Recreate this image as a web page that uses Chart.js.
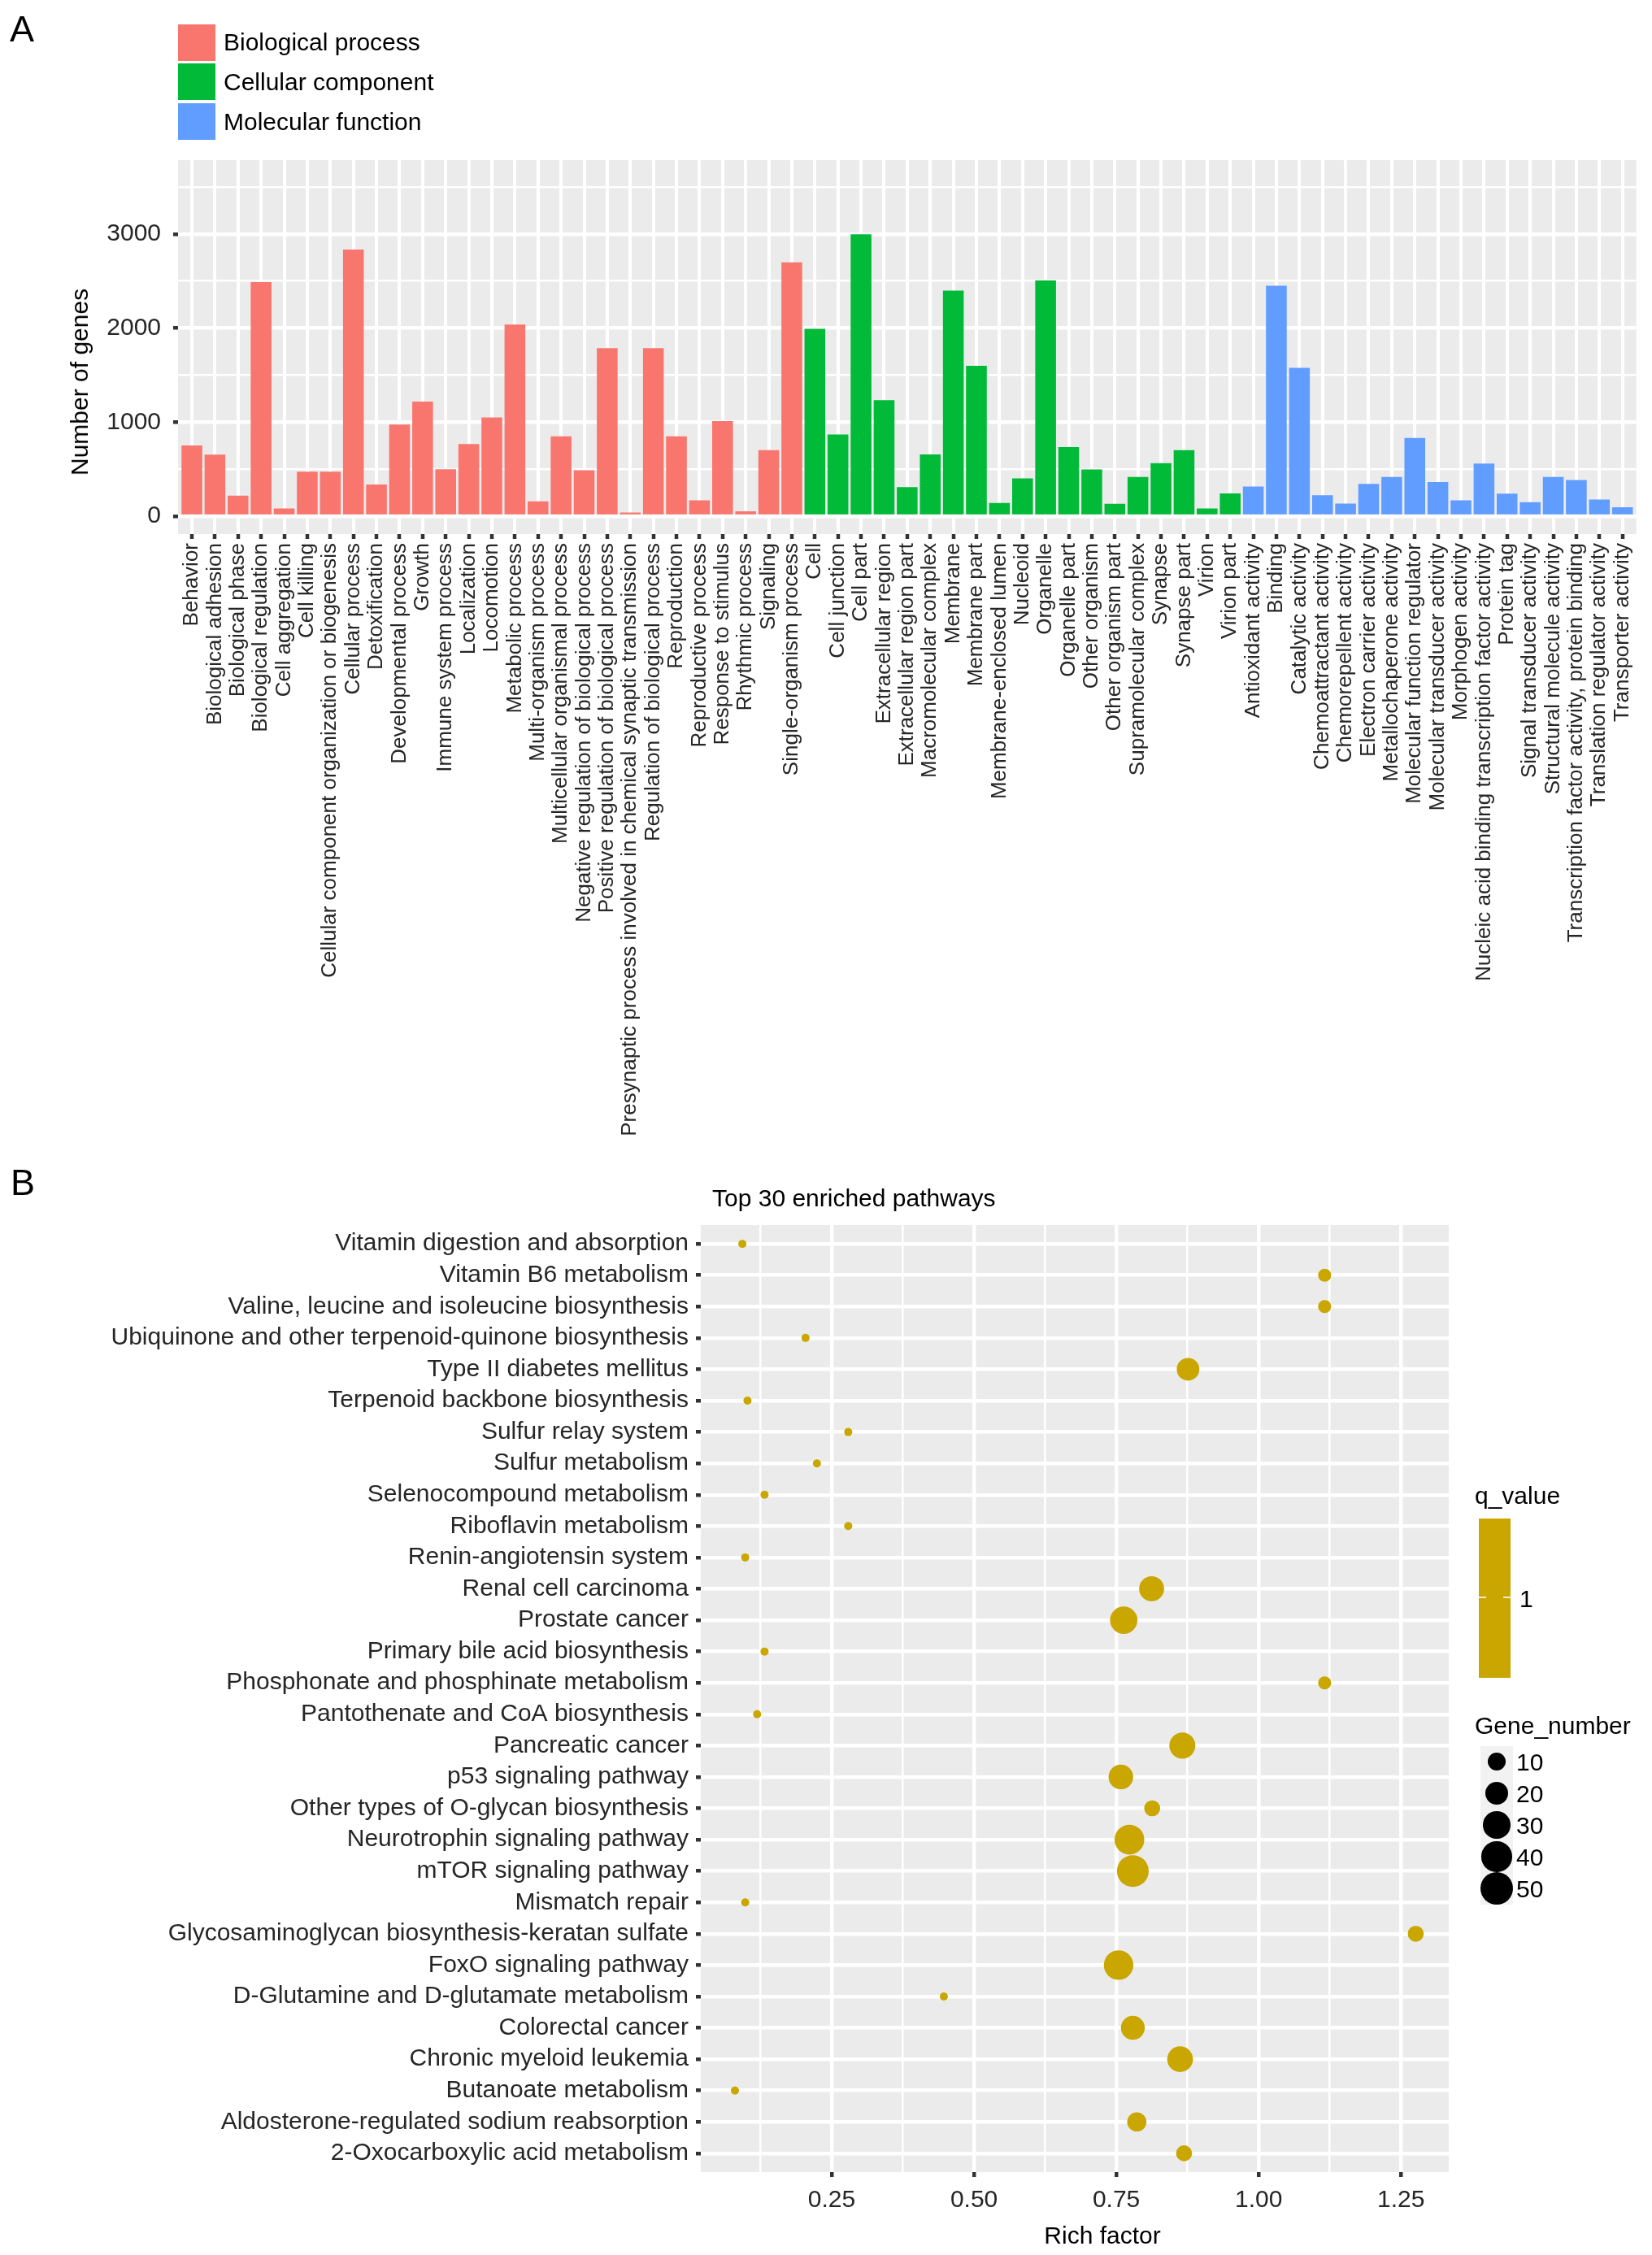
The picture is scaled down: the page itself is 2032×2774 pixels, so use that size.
<!DOCTYPE html>
<html>
<head>
<meta charset="utf-8">
<script src="https://cdn.jsdelivr.net/npm/chart.js@4.4.1/dist/chart.umd.min.js"></script>
<style>
  html, body { margin: 0; padding: 0; background: #fff; }
  body { width: 2032px; height: 2774px; position: relative; overflow: hidden;
         font-family: 'Liberation Sans', Arial, Helvetica, sans-serif; color: #000; }
  canvas { position: absolute; left: 0; }
  .t { position: absolute; white-space: nowrap; line-height: 1; transform: translateY(-50%); }
  .c { position: absolute; white-space: nowrap; line-height: 1; transform: translate(-50%, -50%); }
  .key { position: absolute; }
</style>
</head>
<body>
<canvas id="goChart" width="2032" height="1400" style="top:0"></canvas>
<canvas id="keggChart" width="2032" height="1374" style="top:1400px"></canvas>

<div class="t" style="left:12px;top:35px;font-size:45px">A</div>
<div class="t" style="left:13px;top:1454px;font-size:45px">B</div>
<div id="goLegend"></div>
<div class="c" style="left:98px;top:470px;font-size:30px;transform:translate(-50%,-50%) rotate(-90deg)">Number of genes</div>
<div class="t" style="left:876px;top:1474px;font-size:30px">Top 30 enriched pathways</div>
<div class="c" style="left:1356px;top:2750px;font-size:30px">Rich factor</div>
<div id="keggLegend"></div>

<script>
// GO level-2 terms (panel A)
const bpTerms = ['Behavior', 'Biological adhesion', 'Biological phase', 'Biological regulation',
  'Cell aggregation', 'Cell killing', 'Cellular component organization or biogenesis',
  'Cellular process', 'Detoxification', 'Developmental process', 'Growth',
  'Immune system process', 'Localization', 'Locomotion', 'Metabolic process',
  'Multi-organism process', 'Multicellular organismal process',
  'Negative regulation of biological process', 'Positive regulation of biological process',
  'Presynaptic process involved in chemical synaptic transmission',
  'Regulation of biological process', 'Reproduction', 'Reproductive process',
  'Response to stimulus', 'Rhythmic process', 'Signaling', 'Single-organism process'];
const bpCounts = [752, 654, 218, 2489, 83, 474, 474, 2835, 338, 974, 1218, 500, 767, 1049,
  2038, 158, 850, 489, 1786, 38, 1786, 850, 169, 1011, 53, 703, 2699];

const ccTerms = ['Cell', 'Cell junction', 'Cell part', 'Extracellular region',
  'Extracellular region part', 'Macromolecular complex', 'Membrane', 'Membrane part',
  'Membrane-enclosed lumen', 'Nucleoid', 'Organelle', 'Organelle part', 'Other organism',
  'Other organism part', 'Supramolecular complex', 'Synapse', 'Synapse part', 'Virion',
  'Virion part'];
const ccCounts = [1991, 869, 2997, 1233, 309, 656, 2399, 1598, 140, 402, 2507, 735, 496,
  131, 417, 563, 703, 82, 242];

const mfTerms = ['Antioxidant activity', 'Binding', 'Catalytic activity',
  'Chemoattractant activity', 'Chemorepellent activity', 'Electron carrier activity',
  'Metallochaperone activity', 'Molecular function regulator', 'Molecular transducer activity',
  'Morphogen activity', 'Nucleic acid binding transcription factor activity', 'Protein tag',
  'Signal transducer activity', 'Structural molecule activity',
  'Transcription factor activity, protein binding', 'Translation regulator activity',
  'Transporter activity'];
const mfCounts = [315, 2449, 1577, 222, 134, 344, 417, 831, 364, 169, 560, 239, 149, 417,
  385, 178, 96];

const groupNames = ['Biological process', 'Cellular component', 'Molecular function'];
const groupColors = ['#F8766D', '#00BA38', '#619CFF'];
const yTicksGO = [0, 1000, 2000, 3000];
const yGridGO = [0, 500, 1000, 1500, 2000, 2500, 3000, 3500];

// KEGG top 30 (panel B), top to bottom
const pathways = ['Vitamin digestion and absorption', 'Vitamin B6 metabolism',
  'Valine, leucine and isoleucine biosynthesis',
  'Ubiquinone and other terpenoid-quinone biosynthesis', 'Type II diabetes mellitus',
  'Terpenoid backbone biosynthesis', 'Sulfur relay system', 'Sulfur metabolism',
  'Selenocompound metabolism', 'Riboflavin metabolism', 'Renin-angiotensin system',
  'Renal cell carcinoma', 'Prostate cancer', 'Primary bile acid biosynthesis',
  'Phosphonate and phosphinate metabolism', 'Pantothenate and CoA biosynthesis',
  'Pancreatic cancer', 'p53 signaling pathway', 'Other types of O-glycan biosynthesis',
  'Neurotrophin signaling pathway', 'mTOR signaling pathway', 'Mismatch repair',
  'Glycosaminoglycan biosynthesis-keratan sulfate', 'FoxO signaling pathway',
  'D-Glutamine and D-glutamate metabolism', 'Colorectal cancer', 'Chronic myeloid leukemia',
  'Butanoate metabolism', 'Aldosterone-regulated sodium reabsorption',
  '2-Oxocarboxylic acid metabolism'];
const richFactor = [0.093, 1.116, 1.116, 0.204, 0.876, 0.102, 0.279, 0.224, 0.132, 0.279,
  0.098, 0.812, 0.763, 0.132, 1.116, 0.119, 0.866, 0.758, 0.813, 0.773, 0.779, 0.098,
  1.276, 0.754, 0.447, 0.779, 0.862, 0.080, 0.786, 0.869];
const geneNumber = [1, 3, 3, 1, 18, 1, 1, 1, 1, 1, 1, 24, 31, 1, 3, 1, 27, 23, 6, 39, 46, 1,
  6, 38, 1, 21, 26, 1, 11, 6];
const qValue = 1;
const xTicksKEGG = [0.25, 0.5, 0.75, 1.0, 1.25];
const xGridKEGG = [0.125, 0.25, 0.375, 0.5, 0.625, 0.75, 0.875, 1.0, 1.125, 1.25];
const sizeBreaks = [10, 20, 30, 40, 50];

const FONT = "'Liberation Sans', Arial, Helvetica, sans-serif";
const TEXT = '#262626';
const TICK = '#333333';
const POINT = '#c9a700';

Chart.defaults.font.family = FONT;

const panelBg = {
  id: 'panelBg',
  beforeDraw(chart) {
    const a = chart.chartArea;
    const ctx = chart.ctx;
    ctx.save();
    ctx.fillStyle = '#ebebeb';
    ctx.fillRect(a.left, a.top, a.right - a.left, a.bottom - a.top);
    ctx.restore();
  }
};

// bubble diameter as in the ggplot size scale
function geneRadius(n) {
  return (10 + 4.33 * Math.sqrt(n - 1)) / 2;
}

function setTicks(values) {
  return scale => { scale.ticks = values.map(v => ({ value: v })); };
}

function crearGOChart() {
  const allTerms = bpTerms.concat(ccTerms, mfTerms);
  const groups = [bpCounts, ccCounts, mfCounts];
  let start = 0;
  const datasets = groups.map((counts, g) => {
    const data = counts.map((v, i) => ({ x: start + i, y: v }));
    start += counts.length;
    return {
      label: groupNames[g],
      data: data,
      backgroundColor: groupColors[g],
      borderWidth: 0,
      grouped: false,
      barPercentage: 0.9,
      categoryPercentage: 1
    };
  });

  return new Chart(document.getElementById('goChart'), {
    type: 'bar',
    data: { datasets: datasets },
    plugins: [panelBg],
    options: {
      responsive: false,
      animation: false,
      events: [],
      layout: { padding: { left: 0, top: 197, right: 13, bottom: 0 } },
      plugins: { legend: { display: false }, tooltip: { enabled: false } },
      scales: {
        x: {
          type: 'linear',
          min: -0.6,
          max: allTerms.length - 0.4,
          offset: false,
          afterBuildTicks: setTicks(allTerms.map((t, i) => i)),
          afterFit: s => { s.height = 743; },
          border: { display: false },
          grid: {
            offset: false,
            color: '#ffffff',
            lineWidth: 4,
            tickLength: 6,
            tickWidth: 4.5,
            tickColor: TICK
          },
          ticks: {
            autoSkip: false,
            includeBounds: false,
            minRotation: 90,
            maxRotation: 90,
            padding: 5,
            color: TEXT,
            font: { size: 26 },
            callback: v => allTerms[v] !== undefined ? allTerms[v] : ''
          }
        },
        y: {
          min: -190,
          max: 3785,
          afterBuildTicks: setTicks(yGridGO),
          afterFit: s => { s.width = 219; },
          border: { display: false },
          grid: {
            color: '#ffffff',
            lineWidth: ctx => (ctx.tick && yTicksGO.includes(ctx.tick.value)) ? 4.5 : 2.5,
            tickLength: 6,
            tickWidth: 4.5,
            tickColor: ctx => (ctx.tick && yTicksGO.includes(ctx.tick.value)) ? TICK : 'rgba(0,0,0,0)'
          },
          ticks: {
            autoSkip: false,
            includeBounds: false,
            padding: 15,
            color: TEXT,
            font: { size: 30 },
            callback: v => yTicksGO.includes(v) ? String(v) : ''
          }
        }
      }
    }
  });
}

function crearKEGGChart() {
  const isMajor = v => xTicksKEGG.some(t => Math.abs(t - v) < 1e-6);
  const data = pathways.map((p, i) => ({ x: richFactor[i], y: i, r: geneRadius(geneNumber[i]) }));

  return new Chart(document.getElementById('keggChart'), {
    type: 'bubble',
    data: {
      datasets: [{
        label: 'q_value ' + qValue,
        data: data,
        backgroundColor: POINT,
        borderWidth: 0,
        hoverRadius: 0
      }]
    },
    plugins: [panelBg],
    options: {
      responsive: false,
      animation: false,
      events: [],
      layout: { padding: { left: 0, top: 107, right: 250, bottom: 0 } },
      plugins: { legend: { display: false }, tooltip: { enabled: false } },
      scales: {
        x: {
          type: 'linear',
          min: 0.02,
          max: 1.334,
          afterBuildTicks: setTicks(xGridKEGG),
          afterFit: s => { s.height = 102; },
          border: { display: false },
          grid: {
            color: '#ffffff',
            lineWidth: ctx => (ctx.tick && isMajor(ctx.tick.value)) ? 4.5 : 2.5,
            tickLength: 6,
            tickWidth: 4.5,
            tickColor: ctx => (ctx.tick && isMajor(ctx.tick.value)) ? TICK : 'rgba(0,0,0,0)'
          },
          ticks: {
            autoSkip: false,
            includeBounds: false,
            maxRotation: 0,
            padding: 11,
            color: TEXT,
            font: { size: 30 },
            callback: v => isMajor(v) ? v.toFixed(2) : ''
          }
        },
        y: {
          type: 'linear',
          reverse: true,
          min: -0.6,
          max: pathways.length - 0.4,
          afterBuildTicks: setTicks(pathways.map((p, i) => i)),
          afterFit: s => { s.width = 862; },
          border: { display: false },
          grid: {
            color: '#ffffff',
            lineWidth: 4.5,
            tickLength: 6,
            tickWidth: 4.5,
            tickColor: TICK
          },
          ticks: {
            autoSkip: false,
            includeBounds: false,
            padding: 9,
            color: TEXT,
            font: { size: 30 },
            callback: v => pathways[v] !== undefined ? pathways[v] : ''
          }
        }
      }
    }
  });
}

function crearLeyendas() {
  const go = document.getElementById('goLegend');
  groupNames.forEach((name, i) => {
    const top = 29.5 + i * 48.75;
    const box = document.createElement('div');
    box.className = 'key';
    box.style.cssText = 'left:219px;top:' + top + 'px;width:46px;height:45px;background:' + groupColors[i];
    go.appendChild(box);
    const txt = document.createElement('div');
    txt.className = 't';
    txt.style.cssText = 'left:275px;top:' + (top + 22.5) + 'px;font-size:30px';
    txt.textContent = name;
    go.appendChild(txt);
  });

  const kg = document.getElementById('keggLegend');
  let html = '';
  html += '<div class="t" style="left:1814px;top:1840px;font-size:30px">q_value</div>';
  html += '<div class="key" style="left:1819px;top:1868px;width:39px;height:196px;background:' + POINT + '"></div>';
  html += '<div class="key" style="left:1819px;top:1964px;width:9px;height:2px;background:rgba(255,255,255,0.8)"></div>';
  html += '<div class="key" style="left:1849px;top:1964px;width:9px;height:2px;background:rgba(255,255,255,0.8)"></div>';
  html += '<div class="t" style="left:1869px;top:1967px;font-size:30px">' + qValue + '</div>';
  html += '<div class="t" style="left:1814px;top:2123px;font-size:30px">Gene_number</div>';
  html += '<div class="key" style="left:1821px;top:2148px;width:40px;height:195px;background:#f2f2f2"></div>';
  sizeBreaks.forEach((b, i) => {
    const cy = 2167 + i * 39;
    const r = geneRadius(b);
    html += '<div class="key" style="left:' + (1841 - r) + 'px;top:' + (cy - r) + 'px;width:' + (2 * r) +
      'px;height:' + (2 * r) + 'px;border-radius:50%;background:#000"></div>';
    html += '<div class="t" style="left:1865px;top:' + (cy + 1) + 'px;font-size:30px">' + b + '</div>';
  });
  kg.innerHTML = html;
}

let goChart = crearGOChart();
let keggChart = crearKEGGChart();
crearLeyendas();
</script>
</body>
</html>
